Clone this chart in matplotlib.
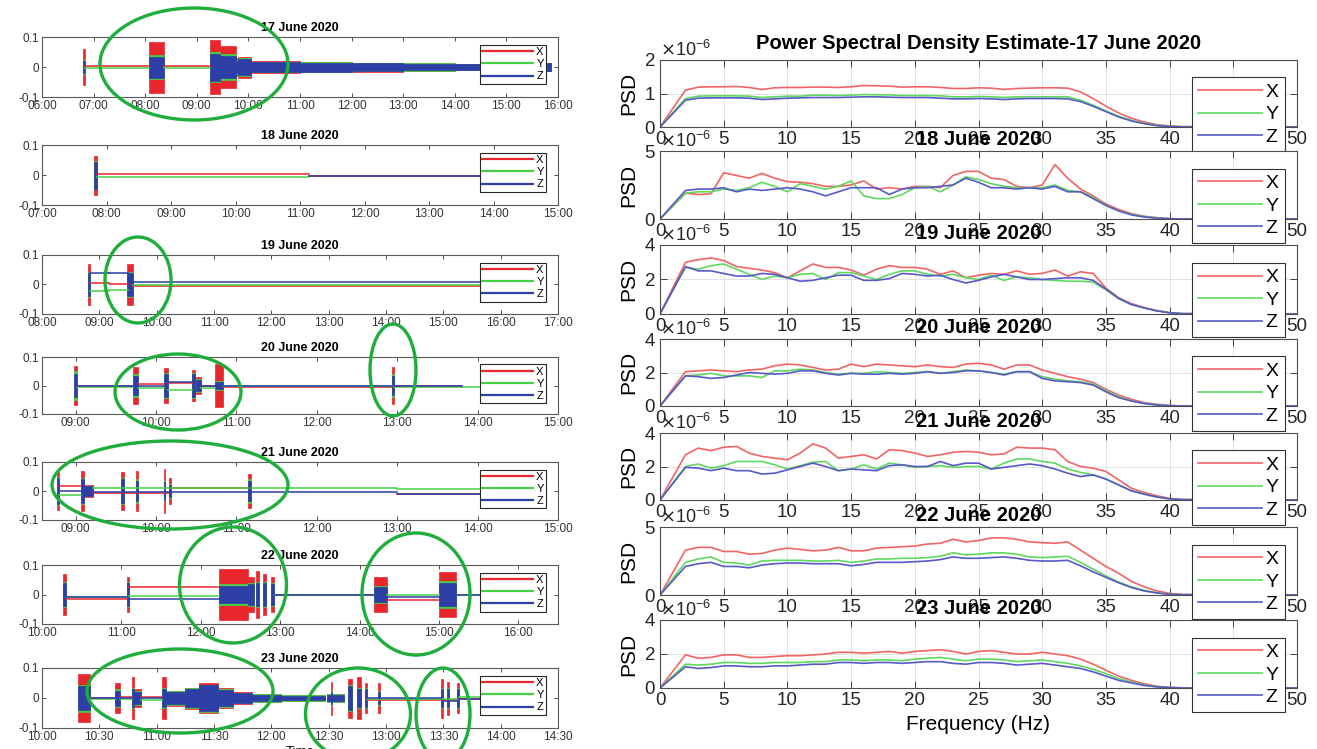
import matplotlib
matplotlib.use('Agg')
import matplotlib.pyplot as plt
from matplotlib.patches import Ellipse
from matplotlib.ticker import FuncFormatter, MultipleLocator

plt.rcParams['font.family'] = ['Liberation Sans', 'DejaVu Sans']
plt.rcParams['axes.unicode_minus'] = False

days = ['17 June 2020', '18 June 2020', '19 June 2020', '20 June 2020',
        '21 June 2020', '22 June 2020', '23 June 2020']

# ---- time records: bursts (start, end, amp X, amp Y, amp Z) and
# ---- quiet baselines (start, end, offset X, offset Y, offset Z)
bursts_17 = [("06:48", "06:50", 0.060, 0.024, 0.020),
             ("08:04", "08:22", 0.085, 0.040, 0.035),
             ("09:15", "09:27", 0.090, 0.050, 0.045),
             ("09:27", "09:45", 0.070, 0.042, 0.038),
             ("09:45", "09:48", 0.030, 0.023, 0.020),
             ("09:48", "10:03", 0.035, 0.030, 0.027),
             ("10:03", "11:00", 0.019, 0.018, 0.017),
             ("11:00", "12:00", 0.017, 0.016, 0.015),
             ("12:00", "13:00", 0.015, 0.014, 0.013),
             ("13:00", "14:00", 0.013, 0.012, 0.011),
             ("14:00", "15:45", 0.011, 0.010, 0.009),
             ("15:47", "15:52", 0.012, 0.012, 0.012)]
base_17 = [("06:50", "08:04", 0.002, -0.003, None),
           ("08:22", "09:15", 0.002, -0.003, None)]

bursts_18 = [("07:48", "07:51", 0.065, 0.048, 0.045)]
base_18 = [("07:51", "11:08", 0.002, -0.005, None),
           ("11:08", "14:00", -0.002, None, -0.002)]

bursts_19 = [("08:48", "08:50", 0.070, 0.043, 0.040),
             ("09:29", "09:35", 0.070, 0.044, 0.040)]
base_19 = [("08:50", "09:10", 0.006, -0.021, 0.040),
           ("09:10", "09:30", 0.002, -0.018, 0.040),
           ("09:35", "15:45", -0.005, -0.001, 0.008)]

bursts_20 = [("08:59", "09:01", 0.068, 0.050, 0.040),
             ("09:43", "09:47", 0.065, 0.040, 0.035),
             ("10:06", "10:09", 0.060, 0.044, 0.040),
             ("10:27", "10:29", 0.055, 0.044, 0.040),
             ("10:30", "10:34", 0.030, 0.024, 0.020),
             ("10:44", "10:50", 0.075, 0.016, 0.012),
             ("12:56", "12:58", 0.065, 0.040, 0.035)]
base_20 = [("09:01", "09:43", -0.003, -0.005, -0.001),
           ("09:47", "10:06", 0.007, -0.008, 0.000),
           ("10:09", "10:27", 0.010, -0.015, 0.012),
           ("10:34", "10:44", 0.000, -0.010, 0.000),
           ("10:50", "12:56", -0.004, -0.003, -0.002),
           ("12:58", "13:48", -0.003, -0.007, -0.003),
           ("13:48", "14:20", None, -0.007, None)]

bursts_21 = [("08:46", "08:48", 0.065, 0.049, 0.045),
             ("09:04", "09:06", 0.070, 0.045, 0.040),
             ("09:06", "09:13", 0.020, 0.018, 0.016),
             ("09:34", "09:36", 0.065, 0.045, 0.040),
             ("09:45", "09:47", 0.070, 0.040, 0.035),
             ("10:06", "10:07", 0.075, 0.035, 0.030),
             ("10:10", "10:11", 0.045, 0.025, 0.020),
             ("11:09", "11:11", 0.060, 0.040, 0.035)]
base_21 = [("08:48", "09:04", 0.018, -0.015, 0.000),
           ("09:13", "10:10", -0.006, 0.010, -0.004),
           ("10:11", "11:09", 0.012, 0.010, -0.005),
           ("11:11", "13:00", None, 0.010, -0.005),
           ("13:00", "14:20", -0.010, 0.007, -0.009)]

bursts_22 = [("10:16", "10:18", 0.070, 0.044, 0.040),
             ("11:04", "11:06", 0.060, 0.044, 0.040),
             ("12:14", "12:36", 0.085, 0.034, 0.030),
             ("12:36", "12:40", 0.060, 0.039, 0.035),
             ("12:42", "12:44", 0.080, 0.044, 0.040),
             ("12:47", "12:49", 0.070, 0.044, 0.040),
             ("12:53", "12:55", 0.060, 0.039, 0.035),
             ("14:11", "14:21", 0.060, 0.029, 0.025),
             ("15:00", "15:13", 0.075, 0.045, 0.040)]
base_22 = [("10:18", "11:04", -0.015, -0.010, -0.010),
           ("11:06", "12:14", 0.025, -0.005, -0.015),
           ("12:55", "14:11", 0.000, -0.002, 0.000),
           ("14:21", "15:00", -0.020, -0.002, -0.008),
           ("15:13", "15:40", None, 0.000, -0.003)]

bursts_23 = [("10:19", "10:25", 0.080, 0.045, 0.040),
             ("10:38", "10:41", 0.050, 0.029, 0.025),
             ("10:47", "10:48", 0.070, 0.034, 0.030),
             ("10:48", "10:52", 0.030, 0.023, 0.020),
             ("11:03", "11:05", 0.070, 0.034, 0.030),
             ("11:05", "11:15", 0.025, 0.022, 0.020),
             ("11:15", "11:22", 0.035, 0.032, 0.030),
             ("11:22", "11:32", 0.050, 0.045, 0.042),
             ("11:32", "11:40", 0.032, 0.029, 0.027),
             ("11:40", "11:50", 0.020, 0.018, 0.016),
             ("11:50", "12:05", 0.014, 0.012, 0.011),
             ("12:05", "12:28", 0.010, 0.009, 0.008),
             ("12:29", "12:38", 0.013, 0.012, 0.011),
             ("12:31", "12:32", 0.055, 0.024, 0.020),
             ("12:40", "12:42", 0.065, 0.044, 0.040),
             ("12:45", "12:47", 0.070, 0.034, 0.030),
             ("12:49", "12:50", 0.050, 0.033, 0.030),
             ("12:56", "12:57", 0.050, 0.024, 0.020),
             ("13:29", "13:30", 0.065, 0.034, 0.030),
             ("13:32", "13:33", 0.055, 0.034, 0.030),
             ("13:37", "13:38", 0.050, 0.034, 0.030)]
base_23 = [("10:25", "10:38", 0.000, -0.004, 0.000),
           ("10:41", "10:47", 0.005, -0.004, 0.000),
           ("10:52", "11:03", 0.002, -0.006, 0.000),
           ("12:50", "13:29", -0.005, -0.003, 0.000),
           ("13:30", "13:37", -0.005, -0.003, -0.010),
           ("13:38", "13:50", -0.004, 0.003, -0.002)]

time_lims = [("06:00", "16:00"), ("07:00", "15:00"), ("08:00", "17:00"),
             ("08:35", "15:00"), ("08:35", "15:00"), ("10:00", "16:30"),
             ("10:00", "14:30")]

# ---- PSD estimates (x1e-6), frequencies in Hz
freq = [0] + list(range(2, 42)) + [50]

psd_17_x = [0, 1.10, 1.19, 1.20, 1.20, 1.21, 1.18, 1.12, 1.17, 1.18, 1.18,
            1.19, 1.19, 1.18, 1.20, 1.24, 1.23, 1.22, 1.19, 1.20, 1.20,
            1.18, 1.15, 1.15, 1.17, 1.16, 1.12, 1.15, 1.16, 1.17, 1.17,
            1.16, 1.05, 0.85, 0.62, 0.42, 0.26, 0.15, 0.07, 0.03, 0.01, 0]
psd_17_y = [0, 0.85, 0.92, 0.93, 0.93, 0.93, 0.92, 0.88, 0.90, 0.92, 0.92,
            0.95, 0.95, 0.94, 0.95, 0.97, 0.96, 0.96, 0.94, 0.94, 0.94,
            0.93, 0.90, 0.90, 0.91, 0.90, 0.88, 0.90, 0.90, 0.90, 0.90,
            0.90, 0.80, 0.65, 0.48, 0.32, 0.20, 0.11, 0.05, 0.02, 0.01, 0]
psd_17_z = [0, 0.80, 0.86, 0.87, 0.87, 0.87, 0.86, 0.82, 0.84, 0.86, 0.87,
            0.88, 0.88, 0.88, 0.89, 0.90, 0.90, 0.89, 0.88, 0.88, 0.88,
            0.86, 0.84, 0.84, 0.85, 0.84, 0.82, 0.84, 0.85, 0.85, 0.85,
            0.84, 0.76, 0.62, 0.46, 0.30, 0.18, 0.10, 0.04, 0.02, 0.00, 0]

psd_18_x = [0, 1.9, 1.8, 1.85, 3.4, 3.2, 3.0, 3.35, 3.0, 2.75, 2.7,
            2.6, 2.4, 2.4, 2.5, 2.8, 2.2, 2.3, 2.2, 2.4, 2.4,
            2.3, 3.2, 3.5, 3.5, 3.0, 2.9, 2.4, 2.3, 2.5, 4.0,
            3.0, 2.2, 1.7, 1.1, 0.7, 0.4, 0.2, 0.1, 0.03, 0.0, 0]
psd_18_y = [0, 1.9, 2.0, 2.0, 2.2, 2.1, 2.3, 2.7, 2.4, 2.0, 2.6,
            2.4, 2.2, 2.4, 2.8, 1.7, 1.5, 1.5, 1.8, 2.3, 2.4,
            2.0, 2.5, 3.1, 2.9, 2.6, 2.4, 2.3, 2.3, 2.3, 2.5,
            2.1, 2.0, 1.6, 1.0, 0.6, 0.35, 0.18, 0.08, 0.02, 0.0, 0]
psd_18_z = [0, 2.1, 2.2, 2.2, 2.3, 2.0, 2.2, 2.1, 2.2, 2.3, 2.2,
            2.0, 1.7, 2.0, 2.3, 2.3, 2.3, 1.8, 2.2, 2.3, 2.3,
            2.4, 2.5, 3.0, 2.7, 2.3, 2.3, 2.2, 2.3, 2.2, 2.4,
            2.0, 2.0, 1.5, 1.0, 0.6, 0.3, 0.15, 0.06, 0.02, 0.0, 0]

psd_19_x = [0, 3.0, 3.15, 3.25, 3.1, 2.75, 2.65, 2.55, 2.4, 2.1, 2.5,
            2.9, 2.7, 2.7, 2.55, 2.25, 2.6, 2.8, 2.7, 2.7, 2.6,
            2.3, 2.5, 2.1, 2.25, 2.35, 2.3, 2.5, 2.3, 2.35, 2.55,
            2.2, 2.45, 2.35, 1.5, 0.95, 0.6, 0.38, 0.2, 0.08, 0.02, 0]
psd_19_y = [0, 2.7, 2.6, 2.8, 2.9, 2.6, 2.3, 2.0, 2.2, 2.1, 2.3,
            2.35, 2.0, 2.4, 2.4, 2.2, 2.0, 2.3, 2.5, 2.5, 2.3,
            2.2, 2.3, 2.1, 2.0, 2.25, 1.95, 2.15, 2.1, 2.0, 1.95,
            1.9, 1.9, 1.85, 1.4, 0.9, 0.55, 0.35, 0.18, 0.07, 0.02, 0]
psd_19_z = [0, 2.75, 2.5, 2.5, 2.35, 2.2, 2.2, 2.35, 2.3, 2.1, 1.9,
            1.95, 2.1, 2.25, 2.25, 1.95, 1.95, 2.05, 2.35, 2.3, 2.2,
            2.25, 2.0, 1.8, 1.95, 2.15, 2.3, 2.15, 2.0, 2.0, 2.05,
            2.1, 2.1, 1.95, 1.45, 0.9, 0.55, 0.35, 0.18, 0.07, 0.02, 0]

psd_20_x = [0, 2.05, 2.1, 2.15, 2.1, 2.05, 2.15, 2.2, 2.4, 2.5, 2.45,
            2.3, 2.15, 2.2, 2.5, 2.35, 2.5, 2.45, 2.4, 2.35, 2.45,
            2.35, 2.3, 2.5, 2.55, 2.45, 2.2, 2.45, 2.45, 2.15, 1.95,
            1.75, 1.6, 1.4, 1.0, 0.65, 0.4, 0.2, 0.1, 0.03, 0.0, 0]
psd_20_y = [0, 1.8, 1.85, 1.95, 1.8, 1.8, 1.8, 1.7, 2.1, 2.1, 2.2,
            2.15, 2.0, 1.9, 1.95, 1.95, 2.05, 2.0, 1.95, 2.0, 2.05,
            1.95, 2.05, 2.15, 2.1, 2.0, 1.9, 2.05, 2.05, 1.75, 1.6,
            1.5, 1.45, 1.3, 0.9, 0.55, 0.3, 0.15, 0.06, 0.02, 0.0, 0]
psd_20_z = [0, 1.8, 1.75, 1.65, 1.7, 1.85, 2.0, 1.95, 1.9, 1.95, 2.1,
            2.1, 1.95, 1.85, 1.95, 1.9, 1.9, 1.95, 1.9, 1.95, 2.05,
            1.95, 2.0, 2.1, 2.1, 2.0, 1.85, 2.05, 2.05, 1.65, 1.5,
            1.45, 1.4, 1.25, 0.85, 0.5, 0.3, 0.15, 0.06, 0.02, 0.0, 0]

psd_21_x = [0, 2.7, 3.1, 2.95, 3.15, 3.2, 2.8, 2.6, 2.5, 2.4, 2.8,
            3.35, 3.1, 2.5, 2.6, 2.7, 2.45, 3.0, 2.95, 2.8, 2.6,
            2.7, 2.85, 2.9, 2.85, 2.7, 2.75, 3.15, 3.1, 3.1, 3.0,
            2.3, 2.0, 1.9, 1.7, 1.2, 0.7, 0.45, 0.25, 0.1, 0.03, 0]
psd_21_y = [0, 2.0, 2.15, 1.9, 2.05, 2.3, 2.3, 2.3, 2.1, 1.85, 2.05,
            2.25, 2.3, 1.75, 1.85, 2.1, 1.85, 2.2, 2.1, 1.95, 2.0,
            2.05, 1.95, 2.0, 2.0, 1.85, 2.2, 2.45, 2.45, 2.3, 2.2,
            1.85, 1.65, 1.5, 1.25, 0.9, 0.55, 0.35, 0.18, 0.07, 0.02, 0]
psd_21_z = [0, 1.95, 1.9, 1.75, 1.9, 1.75, 1.75, 1.55, 1.6, 1.8, 2.0,
            2.2, 2.0, 1.75, 1.85, 1.8, 1.75, 2.05, 2.1, 2.0, 2.0,
            2.3, 2.05, 2.2, 2.2, 1.85, 1.95, 2.05, 2.15, 2.05, 1.85,
            1.6, 1.4, 1.5, 1.25, 0.9, 0.55, 0.35, 0.18, 0.07, 0.02, 0]

psd_22_x = [0, 3.3, 3.5, 3.5, 3.2, 3.2, 3.0, 3.05, 3.3, 3.45, 3.35,
            3.25, 3.3, 3.5, 3.25, 3.25, 3.45, 3.5, 3.55, 3.6, 3.75,
            3.8, 4.1, 3.9, 4.0, 4.2, 4.2, 4.1, 3.9, 3.85, 3.8,
            3.9, 3.3, 2.7, 2.1, 1.6, 1.0, 0.6, 0.3, 0.12, 0.04, 0]
psd_22_y = [0, 2.4, 2.65, 2.8, 2.4, 2.35, 2.2, 2.5, 2.55, 2.55, 2.55,
            2.5, 2.5, 2.55, 2.4, 2.5, 2.65, 2.65, 2.7, 2.7, 2.75,
            2.85, 3.1, 2.95, 3.0, 3.1, 3.1, 3.0, 2.8, 2.75, 2.8,
            2.85, 2.4, 1.9, 1.4, 0.95, 0.6, 0.35, 0.17, 0.06, 0.02, 0]
psd_22_z = [0, 2.1, 2.3, 2.4, 2.1, 2.1, 2.0, 2.2, 2.3, 2.35, 2.35,
            2.3, 2.3, 2.3, 2.15, 2.25, 2.4, 2.4, 2.4, 2.45, 2.5,
            2.6, 2.8, 2.7, 2.7, 2.75, 2.8, 2.7, 2.55, 2.5, 2.5,
            2.55, 2.15, 1.7, 1.3, 0.9, 0.55, 0.3, 0.15, 0.05, 0.02, 0]

psd_23_x = [0, 1.95, 1.75, 1.8, 1.95, 1.95, 1.8, 1.8, 1.85, 1.9, 1.9,
            1.95, 2.0, 2.1, 2.1, 2.05, 2.1, 2.15, 2.05, 2.15, 2.2,
            2.25, 2.15, 2.0, 2.15, 2.2, 2.1, 2.0, 2.0, 2.1, 2.0,
            1.9, 1.7, 1.4, 1.05, 0.7, 0.45, 0.25, 0.1, 0.04, 0.01, 0]
psd_23_y = [0, 1.4, 1.35, 1.4, 1.5, 1.5, 1.45, 1.45, 1.5, 1.5, 1.5,
            1.55, 1.55, 1.65, 1.65, 1.6, 1.65, 1.65, 1.6, 1.7, 1.75,
            1.8, 1.7, 1.6, 1.7, 1.7, 1.65, 1.55, 1.6, 1.65, 1.55,
            1.45, 1.3, 1.1, 0.85, 0.55, 0.35, 0.18, 0.08, 0.03, 0.01, 0]
psd_23_z = [0, 1.25, 1.15, 1.2, 1.3, 1.3, 1.25, 1.25, 1.3, 1.3, 1.35,
            1.4, 1.4, 1.5, 1.5, 1.45, 1.5, 1.5, 1.45, 1.5, 1.55,
            1.55, 1.45, 1.4, 1.5, 1.5, 1.45, 1.35, 1.4, 1.45, 1.35,
            1.25, 1.15, 0.95, 0.7, 0.45, 0.3, 0.15, 0.07, 0.02, 0.0, 0]

psd_ymax = [2, 5, 4, 4, 4, 5, 4]
psd_ystep = [1, 5, 2, 2, 2, 5, 2]


def hrs(s):
    h, m = s.split(':')
    return int(h) + int(m) / 60.0


def hhmm(v, pos=None):
    total = int(round(v * 60))
    return '%02d:%02d' % (total // 60, total % 60)


W, H = 1317, 749
fig = plt.figure(figsize=(W / 100, H / 100), dpi=100)

left_rows = [(37, 97), (145, 205), (255, 314), (357, 414), (462, 520), (565, 624), (668, 728)]
right_rows = [(60, 127), (151, 219), (245, 314), (339, 406), (433, 500), (527, 595), (620, 688)]

ts_colors = ['#e8262b', '#46cf46', '#2d3ea6']
psd_colors = ['#f26464', '#5fd85f', '#5858c8']
labels = ['X', 'Y', 'Z']

all_bursts = [bursts_17, bursts_18, bursts_19, bursts_20, bursts_21, bursts_22, bursts_23]
all_base = [base_17, base_18, base_19, base_20, base_21, base_22, base_23]
all_psd = [(psd_17_x, psd_17_y, psd_17_z), (psd_18_x, psd_18_y, psd_18_z),
           (psd_19_x, psd_19_y, psd_19_z), (psd_20_x, psd_20_y, psd_20_z),
           (psd_21_x, psd_21_y, psd_21_z), (psd_22_x, psd_22_y, psd_22_z),
           (psd_23_x, psd_23_y, psd_23_z)]

# ---------------- left column: acceleration records ----------------
for i in range(7):
    top, bot = left_rows[i]
    ax = fig.add_axes([42 / W, 1 - bot / H, 516 / W, (bot - top) / H])
    for k in range(3):
        c = ts_colors[k]
        for seg in all_base[i]:
            off = seg[2 + k]
            if off is None:
                continue
            ax.plot([hrs(seg[0]), hrs(seg[1])], [off, off], color=c, lw=1.1)
        for b in all_bursts[i]:
            a = b[2 + k]
            ax.fill_between([hrs(b[0]), hrs(b[1])], -a, a, color=c, lw=0.5,
                            edgecolor=c)
    for k in range(3):
        ax.plot([], [], color=ts_colors[k], lw=1.6, label=labels[k])
    lo, hi = time_lims[i]
    ax.set_xlim(hrs(lo), hrs(hi))
    ax.set_ylim(-0.1, 0.1)
    ax.xaxis.set_major_locator(MultipleLocator(0.5 if i == 6 else 1))
    ax.xaxis.set_major_formatter(FuncFormatter(hhmm))
    ax.set_yticks([-0.1, 0, 0.1])
    ax.yaxis.set_major_formatter(FuncFormatter(lambda v, p: '%g' % round(v, 2)))
    ax.tick_params(direction='in', top=True, right=True, length=3, width=0.6,
                   labelsize=8.5, colors='0.2', pad=2)
    for sp in ax.spines.values():
        sp.set_color('0.35')
        sp.set_linewidth(0.8)
    ax.set_title(days[i], fontsize=9, fontweight='bold', y=1.0, pad=4)
    leg = ax.legend(loc='upper left', bbox_to_anchor=(0.848, 0.87), fontsize=8,
                    handlelength=4.6, handletextpad=0.3, borderpad=0.2,
                    labelspacing=0.2, fancybox=False, framealpha=1,
                    borderaxespad=0)
    leg.get_frame().set_edgecolor('0.15')
    leg.get_frame().set_linewidth(0.8)
    if i == 6:
        ax.set_xlabel('Time', fontsize=9.5, labelpad=2)

# ---------------- right column: PSD estimates ----------------
for i in range(7):
    top, bot = right_rows[i]
    ax = fig.add_axes([660 / W, 1 - bot / H, 637 / W, (bot - top) / H])
    for k in range(3):
        vals = [v * 1e-6 for v in all_psd[i][k]]
        ax.plot(freq, vals, color=psd_colors[k], lw=1.2, label=labels[k])
    ax.set_xlim(0, 50)
    ax.set_ylim(0, psd_ymax[i] * 1e-6)
    ax.xaxis.set_major_locator(MultipleLocator(5))
    ax.yaxis.set_major_locator(MultipleLocator(psd_ystep[i] * 1e-6))
    ax.ticklabel_format(axis='y', style='sci', scilimits=(-6, -6), useMathText=True)
    ax.yaxis.get_offset_text().set_fontsize(13)
    ax.yaxis.get_offset_text().set_color('0.35')
    ax.grid(True, color='0.87', lw=0.6)
    ax.tick_params(direction='in', top=True, right=True, length=5, width=0.6,
                   labelsize=13.5, colors='0.15', pad=3)
    for sp in ax.spines.values():
        sp.set_color('0.3')
        sp.set_linewidth(0.8)
    ax.set_ylabel('PSD', fontsize=15, labelpad=4)
    if i == 0:
        ax.set_title('Power Spectral Density Estimate-17 June 2020', fontsize=14.5,
                     fontweight='bold', y=1.0, pad=8)
    else:
        ax.set_title(days[i], fontsize=14.5, fontweight='bold', y=1.0, pad=4)
    leg = ax.legend(loc='upper left', bbox_to_anchor=(0.835, 0.74), fontsize=14,
                    handlelength=3.3, handletextpad=0.2, borderpad=0.3,
                    labelspacing=0.25, fancybox=False, framealpha=1,
                    borderaxespad=0)
    leg.get_frame().set_edgecolor('0.2')
    leg.get_frame().set_linewidth(0.8)
    if i == 6:
        ax.set_xlabel('Frequency (Hz)', fontsize=15, labelpad=4)

# ---------------- highlighted events (green rings) ----------------
rings = [(194, 64, 188, 112), (138, 280, 66, 86), (178, 392, 126, 76),
         (393, 370, 46, 92), (170, 485, 236, 88), (233, 585, 107, 116),
         (416, 594, 108, 122), (180, 691, 186, 84), (358, 714, 105, 92),
         (443, 714, 54, 92)]
for cx, cy, w, h in rings:
    fig.patches.append(Ellipse((cx / W, 1 - cy / H), w / W, h / H,
                               transform=fig.transFigure, fill=False,
                               edgecolor='#1fae3c', lw=2.4, zorder=10))

fig.savefig('out.png', dpi=100)
